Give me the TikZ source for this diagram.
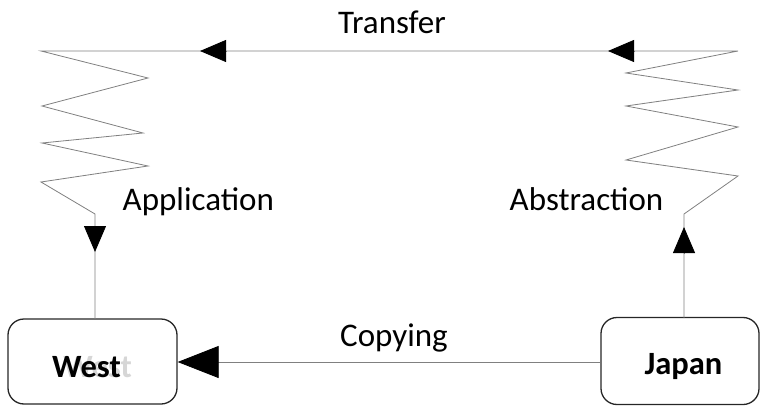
\documentclass[tikz,border=0pt]{standalone}
\usepackage{fontspec}
\setmainfont{Carlito}
\usetikzlibrary{arrows.meta}
\begin{document}
\begin{tikzpicture}[x=1pt,y=-1pt,
  wire/.style={draw=black!50, line width=0.8pt, line join=miter},
  bigtip/.style={wire, -{Triangle[length=41pt,width=32pt,color=black]}},
  midtip/.style={wire, -{Triangle[length=26pt,width=22pt,color=black]}},
  place/.style={draw=black!85, line width=1.3pt, rounded corners=16pt, inner sep=0pt},
  placename/.style={font=\fontsize{32.5}{38}\selectfont\bfseries, anchor=base, inner sep=0pt},
  lbl/.style={font=\fontsize{33}{40}\selectfont, anchor=base, inner sep=0pt}]
\useasboundingbox (0,0) rectangle (762,406);

% the two places
\node[place, minimum width=169pt, minimum height=85pt] (west) at (92.5,361.5) {};
\node[placename, text=black!16, anchor=base east] (westshade) at (132,377) {West};
\node[placename] (westname) at (86.5,377) {West};
\node[place, minimum width=158pt, minimum height=87pt] (japan) at (680,361) {};
\node[placename] (japanname) at (683.5,374) {Japan};

% corner points of the loop
\coordinate (jtop) at (684,318);
\coordinate (wtop) at (95,319);
\coordinate (r0) at (684,214);
\coordinate (r1) at (738,176);
\coordinate (r2) at (626,160);
\coordinate (r3) at (738,127);
\coordinate (r4) at (626,106);
\coordinate (r5) at (738,90);
\coordinate (r6) at (626,73);
\coordinate (r7) at (738,51);
\coordinate (l0) at (41,51);
\coordinate (l1) at (148,78);
\coordinate (l2) at (42,106);
\coordinate (l3) at (143,133);
\coordinate (l4) at (42,143);
\coordinate (l5) at (148,166);
\coordinate (l6) at (41,182);
\coordinate (l7) at (95,214);

% copying
\draw[bigtip] (japan.west |- 0,362) -- (west.east |- 0,362);
\node[lbl] (copying) at (394,346) {Copying};

% abstraction, transfer, application
\draw[wire] (jtop) -- (r0) -- (r1) -- (r2) -- (r3) -- (r4) -- (r5) -- (r6) -- (r7)
  -- (l0) -- (l1) -- (l2) -- (l3) -- (l4) -- (l5) -- (l6) -- (l7) -- (wtop);
\draw[midtip] (684,253) -- (684,227);
\draw[midtip] (634,51) -- (608,51);
\draw[midtip] (226,51) -- (200,51);
\draw[midtip] (95,226) -- (95,252);

\node[lbl] (transfer) at (392,34) {Transfer};
\node[lbl, anchor=base west] (application) at (122.5,210) {Application};
\node[lbl, anchor=base east] (abstraction) at (663.5,210) {Abstraction};
\end{tikzpicture}
\end{document}
